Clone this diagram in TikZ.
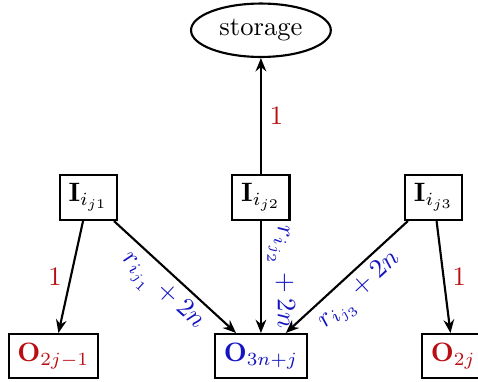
\documentclass[tikz,border=0pt]{standalone}
\usepackage{amsmath,amssymb}
\usepackage{xcolor}
\usepackage{tikz}
\usetikzlibrary{arrows.meta, positioning, shapes.geometric}
\definecolor{ioRed}{RGB}{185,15,20}
\definecolor{ioBlue}{RGB}{20,20,195}

\begin{document}
\begin{tikzpicture}[
  S/.style={draw,thick,ellipse,inner sep=3pt},
  B/.style={draw,thick,rectangle},
  E/.style={thick,-{Stealth[length=5pt,width=4pt]}},
  L/.style={text=ioRed,inner sep=3pt},
  W/.style={text=ioBlue,inner sep=2pt}]

\clip (-34.5mm,4.0mm) rectangle (28.7mm,-46.5mm);

\node[S] (S) at (0,0) {storage};

% inputs
\node[B,below=15.3mm of S] (I2) {$\mathbf{I}_{i_{j2}}$};
\node[B,left=15mm of I2]  (I1) {$\mathbf{I}_{i_{j1}}$};
\node[B,right=15mm of I2] (I3) {$\mathbf{I}_{i_{j3}}$};

% outputs
\node[B,below=14.8mm of I1,xshift=-4.6mm,text=ioRed]  (O1) {$\mathbf{O}_{2j-1}$};
\node[B,below=14.8mm of I2,text=ioBlue]               (O2) {$\mathbf{O}_{3n+j}$};
\node[B,below=14.8mm of I3,xshift=2.6mm,text=ioRed]   (O3) {$\mathbf{O}_{2j}$};

\draw[E] (I2) -- node[L,right] {1} (S);
\draw[E] (I1) -- node[L,left] {1} (O1);
\draw[E] (I3) -- node[L,right] {1} (O3);
\draw[E] (I1) -- node[W,sloped,below] {$r_{i_{j_1}}+2n$} (O2);
\draw[E] (I2) -- node[W,sloped,above] {$r_{i_{j_2}}+2n$} (O2);
\draw[E] (I3) -- node[W,sloped,below] {$r_{i_{j_3}}+2n$} (O2);
\end{tikzpicture}
\end{document}
